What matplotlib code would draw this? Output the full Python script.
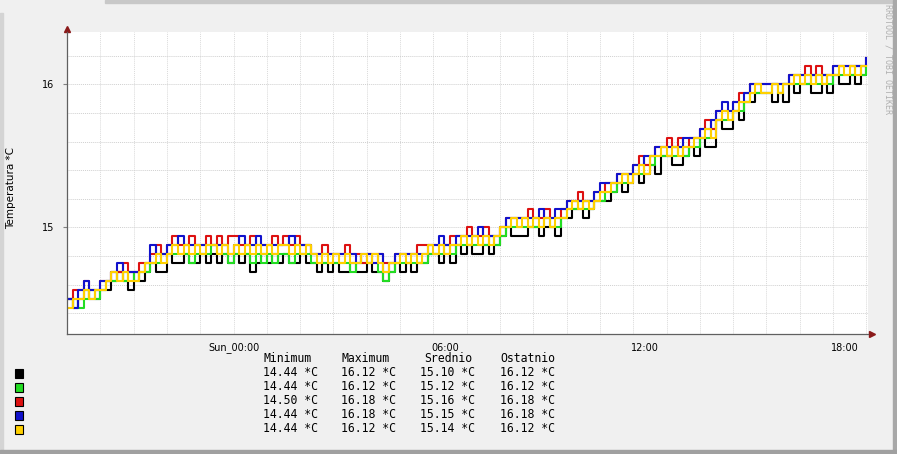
import matplotlib
matplotlib.use('Agg')
import matplotlib.pyplot as plt
from matplotlib.patches import Rectangle

# hours relative to Sun 00:00, one reading every 10 minutes (Sat 19:00 .. Sun 19:00)
hours = [-5 + i / 6 for i in range(145)]

# sensor readings in 1/16 *C (DS18B20 raw units), one row per hour
black = [232, 231, 232, 233, 232, 232,  233, 233, 234, 235, 234, 233,
         235, 234, 235, 236, 235, 235,  237, 236, 236, 237, 236, 236,
         237, 236, 237, 236, 237, 236,  237, 236, 237, 235, 236, 237,
         236, 237, 236, 237, 236, 236,  237, 236, 236, 235, 236, 235,
         236, 235, 235, 236, 235, 235,  236, 235, 235, 234, 235, 236,
         235, 236, 235, 236, 236, 237,  237, 236, 237, 236, 238, 237,
         238, 237, 237, 238, 237, 238,  239, 240, 239, 239, 239, 240,
         240, 239, 240, 240, 239, 241,  241, 242, 242, 241, 242, 243,
         243, 243, 244, 245, 244, 245,  246, 245, 246, 247, 246, 248,
         248, 247, 247, 248, 249, 248,  250, 249, 249, 252, 251, 251,
         253, 252, 254, 254, 255, 255,  255, 254, 255, 254, 256, 255,
         256, 256, 255, 255, 256, 255,  257, 256, 256, 257, 256, 257,
         258]
green = [232, 232, 231, 232, 233, 232,  233, 234, 234, 235, 234, 235,
         234, 235, 235, 236, 236, 237,  237, 237, 237, 237, 236, 237,
         237, 237, 238, 237, 237, 236,  237, 237, 237, 236, 237, 236,
         237, 236, 237, 237, 236, 237,  237, 237, 236, 236, 236, 236,
         236, 236, 236, 235, 236, 236,  236, 236, 235, 234, 235, 236,
         236, 236, 236, 236, 236, 237,  237, 237, 238, 237, 238, 238,
         238, 238, 238, 238, 239, 238,  239, 240, 240, 240, 240, 240,
         240, 240, 241, 240, 240, 241,  242, 242, 243, 242, 242, 243,
         243, 244, 244, 245, 245, 246,  246, 246, 247, 247, 248, 248,
         248, 248, 249, 248, 249, 249,  250, 250, 251, 252, 252, 252,
         253, 253, 254, 255, 255, 255,  255, 256, 255, 256, 256, 256,
         256, 256, 257, 256, 257, 256,  257, 257, 257, 257, 258, 257,
         258]
red = [232, 233, 233, 234, 233, 233,  234, 234, 235, 235, 236, 235,
       235, 236, 236, 237, 238, 237,  238, 239, 238, 238, 239, 238,
       238, 239, 238, 239, 238, 239,  239, 238, 238, 239, 238, 238,
       238, 239, 238, 239, 238, 239,  238, 238, 237, 237, 238, 237,
       237, 237, 238, 237, 237, 236,  237, 237, 237, 236, 236, 237,
       237, 237, 237, 238, 238, 238,  238, 238, 238, 239, 239, 239,
       240, 239, 239, 240, 239, 239,  240, 241, 241, 241, 241, 242,
       241, 241, 242, 241, 241, 242,  243, 243, 244, 243, 243, 244,
       244, 245, 245, 246, 246, 246,  247, 248, 247, 248, 249, 249,
       250, 249, 250, 249, 250, 250,  251, 252, 251, 253, 253, 253,
       254, 255, 255, 256, 256, 256,  256, 256, 256, 256, 257, 257,
       257, 258, 257, 258, 257, 257,  258, 258, 258, 258, 258, 258,
       259]
blue = [232, 231, 233, 234, 233, 233,  234, 234, 235, 236, 235, 235,
        235, 235, 236, 238, 237, 237,  238, 238, 239, 238, 238, 238,
        238, 238, 238, 238, 238, 237,  238, 239, 238, 238, 239, 238,
        238, 238, 238, 238, 239, 238,  238, 238, 237, 237, 237, 237,
        237, 237, 237, 237, 236, 237,  237, 236, 237, 235, 236, 237,
        237, 237, 237, 237, 237, 238,  238, 239, 238, 238, 239, 239,
        239, 239, 240, 239, 239, 239,  240, 241, 241, 241, 241, 241,
        241, 242, 241, 241, 242, 242,  243, 243, 243, 243, 243, 244,
        245, 245, 245, 246, 246, 246,  247, 247, 248, 248, 249, 249,
        249, 249, 249, 250, 250, 250,  251, 251, 252, 253, 254, 253,
        254, 254, 255, 256, 256, 256,  256, 256, 256, 256, 257, 257,
        257, 257, 257, 257, 257, 257,  258, 258, 258, 258, 258, 258,
        259]
yellow = [231, 232, 232, 233, 232, 233,  233, 234, 235, 234, 235, 234,
          234, 235, 236, 236, 237, 236,  237, 238, 237, 238, 237, 238,
          237, 238, 238, 237, 238, 237,  238, 237, 238, 237, 238, 237,
          238, 237, 238, 238, 237, 238,  237, 238, 237, 236, 237, 236,
          237, 236, 237, 236, 236, 237,  236, 237, 236, 235, 236, 236,
          237, 236, 237, 236, 237, 238,  237, 238, 237, 238, 238, 239,
          238, 239, 238, 239, 238, 239,  240, 240, 241, 240, 241, 240,
          241, 240, 241, 240, 241, 241,  242, 243, 242, 243, 242, 243,
          244, 244, 245, 245, 246, 245,  246, 247, 246, 248, 248, 249,
          248, 249, 248, 249, 249, 250,  250, 251, 250, 252, 253, 252,
          253, 254, 254, 255, 256, 255,  255, 256, 255, 256, 256, 257,
          256, 257, 256, 257, 256, 257,  257, 258, 257, 258, 257, 258,
          258]

series = [black, green, red, blue, yellow]
colors = ['#000000', '#22dd22', '#dd1111', '#1111cc', '#ffd000']

# legend statistics as printed under the graph
mins = [14.44, 14.44, 14.50, 14.44, 14.44]
maxs = [16.12, 16.12, 16.18, 16.18, 16.12]
avgs = [15.10, 15.12, 15.16, 15.15, 15.14]
lasts = [16.12, 16.12, 16.18, 16.18, 16.12]

W, H = 897, 454
def fx(x):
    return x / W
def fy(y):
    return 1 - y / H

fig = plt.figure(figsize=(W / 100, H / 100), dpi=100, facecolor='#f0f0f0')

# frame strips
fig.patches.append(Rectangle((fx(105), fy(3)), 1, 3 / H, transform=fig.transFigure, color='#c8c8c8', zorder=0))
fig.patches.append(Rectangle((0, 0), 2.5 / W, fy(13), transform=fig.transFigure, color='#d4d4d4', zorder=0))
fig.patches.append(Rectangle((fx(893), 0), 4 / W, 1, transform=fig.transFigure, color='#a8a8a8', zorder=0))
fig.patches.append(Rectangle((0, 0), 1, 4 / H, transform=fig.transFigure, color='#a0a0a0', zorder=0))

ax = fig.add_axes([fx(67), fy(334), (868 - 67) / W, (334 - 32) / H])
ax.set_facecolor('white')

for vals, c in zip(series, colors):
    ax.step(hours, [v / 16 for v in vals], where='post', color=c, lw=1.5)

ax.set_xlim(-5, 19.05)
ax.set_ylim(14.254, 16.366)

ax.set_yticks([15, 16])
ax.set_yticks([14.4 + 0.2 * k for k in range(10)], minor=True)
ax.set_xticks(range(-4, 20))
ax.set_xticklabels([])
ax.tick_params(axis='x', length=0)
ax.tick_params(axis='y', which='major', length=3, labelsize=7, pad=6, color='#808080')
ax.tick_params(axis='y', which='minor', length=0)
ax.grid(True, which='both', axis='y', color='#d0d0d0', ls=(0, (1, 1)), lw=0.7)
ax.grid(True, which='major', axis='x', color='#dadada', ls=(0, (1, 1)), lw=0.7)

for s in ['top', 'right']:
    ax.spines[s].set_visible(False)
for s in ['left', 'bottom']:
    ax.spines[s].set_color('#606060')
    ax.spines[s].set_linewidth(0.9)

# axis arrows
ax.plot([0], [1.01], marker='^', ms=4, color='#8b1a1a', transform=ax.transAxes, clip_on=False)
ax.plot([1.005], [0], marker='>', ms=4, color='#8b1a1a', transform=ax.transAxes, clip_on=False)

# time labels
xlabels = ['Sun_00:00', '06:00', '12:00', '18:00']
xlabel_pos = [0, 6.36, 12.36, 18.36]
for lab, p in zip(xlabels, xlabel_pos):
    ax.text(p, -0.045, lab, transform=ax.get_xaxis_transform(), ha='center', va='center', fontsize=7)

fig.text(fx(11), fy(188), 'Temperatura *C', rotation=90, ha='center', va='center', fontsize=7.5)
fig.text(fx(888), fy(4), 'RRDTOOL / TOBI OETIKER', rotation=270, ha='center', va='top',
         fontsize=6, family='DejaVu Sans Mono', color='#b0b0b0')

# legend
mono = dict(family='DejaVu Sans Mono', fontsize=8.3, va='center', ha='left')
heads = ['Minimum', 'Maximum', 'Srednio', 'Ostatnio']
head_x = [263, 341, 424, 500]
for h, x in zip(heads, head_x):
    fig.text(fx(x), fy(358), h, **mono)

col_x = [263, 341, 420, 500]
for i, c in enumerate(colors):
    y = 373 + i * 14
    fig.patches.append(Rectangle((fx(15), fy(y + 4.5)), 8 / W, 9 / H, transform=fig.transFigure,
                                 facecolor=c, edgecolor='black', lw=0.8))
    for vals, x in zip([mins, maxs, avgs, lasts], col_x):
        fig.text(fx(x), fy(y), '%.2f *C' % vals[i], **mono)

fig.savefig('out.png', dpi=100, facecolor=fig.get_facecolor())
